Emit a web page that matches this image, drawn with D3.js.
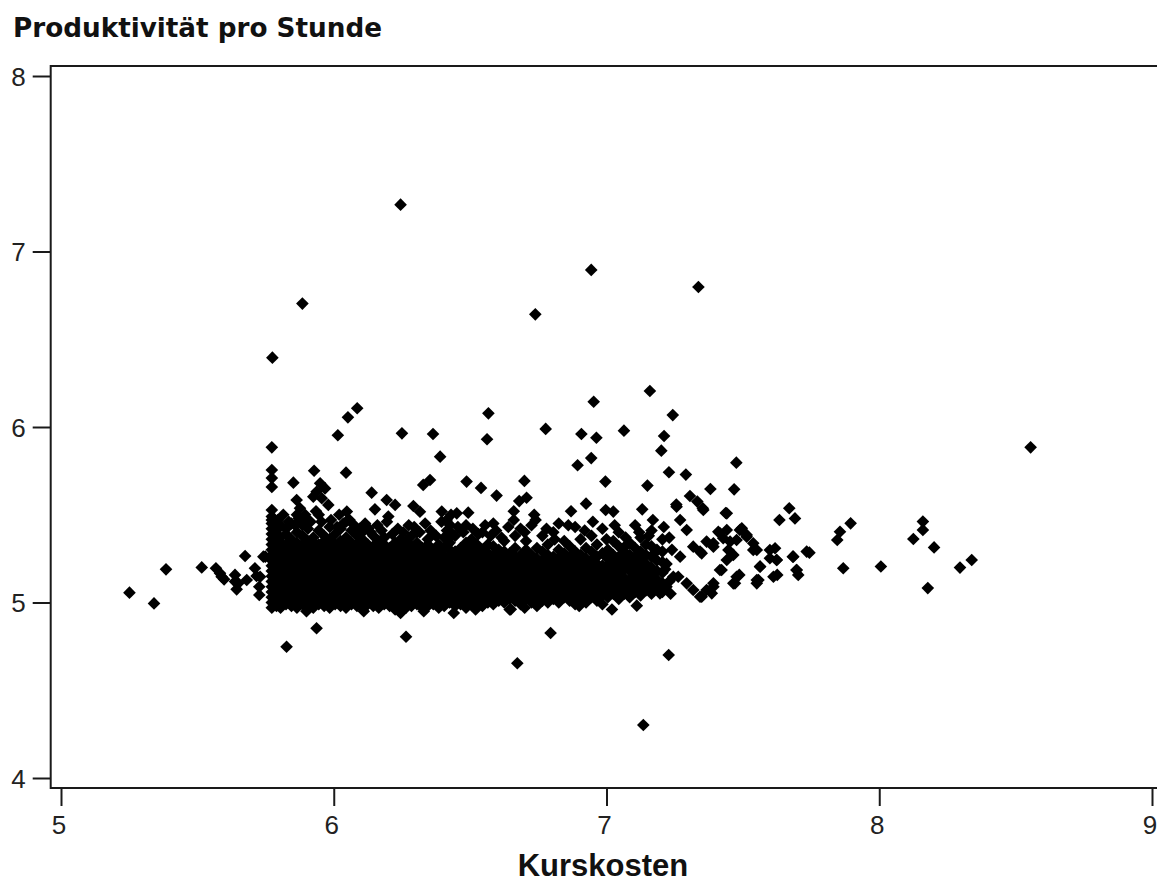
<!DOCTYPE html>
<html><head><meta charset="utf-8">
<script src="https://cdn.jsdelivr.net/npm/d3@7"></script>
<style>html,body{margin:0;padding:0;background:#fff;}svg{display:block;}</style>
</head><body>
<script>
// ---------- DATA ----------
const title = "Produktivität pro Stunde";
const xTitle = "Kurskosten";
const xTicks = [5, 6, 7, 8, 9];
const yTicks = [4, 5, 6, 7, 8];

// scattered points above the main cluster
const upperPoints = [
[6.245,7.267],[5.885,6.703],[6.944,6.895],[7.337,6.798],[6.739,6.642],[5.775,6.395],[7.159,6.205],[6.953,6.144],[6.567,6.078],[7.243,6.068],
[6.086,6.107],[6.052,6.055],[6.015,5.953],[6.250,5.964],[6.364,5.960],[6.777,5.989],[6.908,5.960],[6.963,5.939],[7.064,5.979],[7.211,5.949],
[6.562,5.930],[8.555,5.884],[7.201,5.865],[6.944,5.823],[6.894,5.782],[7.229,5.742],[7.291,5.729],[7.476,5.797],[7.468,5.645],[7.381,5.647],
[7.150,5.666],[6.996,5.689],[6.487,5.689],[6.540,5.653],[6.699,5.693],[6.597,5.609],[6.707,5.597],[6.680,5.578],[6.493,5.512],[6.925,5.563],
[6.997,5.527],[7.025,5.518],[7.131,5.531],[7.256,5.558],[7.306,5.607],[7.333,5.575],[7.355,5.527],[7.437,5.510],[6.390,5.831],[5.928,5.751],
[6.045,5.740],[5.852,5.683],[5.950,5.679],[5.968,5.650],[5.937,5.631],[5.925,5.603],[5.956,5.594],[5.980,5.556],[5.864,5.584],[5.876,5.537],
[6.139,5.626],[6.151,5.531],[6.194,5.584],[6.225,5.556],[6.292,5.550],[6.316,5.517],[6.328,5.670],[6.353,5.698],[6.451,5.508],[6.396,5.518],
[6.414,5.470],[6.426,5.442],[6.127,5.423],[6.048,5.518],[5.773,5.884],[5.773,5.755],[5.773,5.709],[5.773,5.658],[5.773,5.527],[5.773,5.470]
];

// scattered points below the main cluster
const lowerPoints = [
[5.827,4.748],[5.937,4.853],[6.265,4.805],[6.795,4.826],[6.673,4.654],[7.228,4.701],[7.135,4.302],[6.649,4.961],[7.111,4.982]
];

// sparse points left of the main cluster
const leftPoints = [
[5.251,5.056],[5.341,4.995],[5.385,5.189],[5.516,5.200],[5.568,5.195],[5.583,5.166],[5.598,5.132],[5.638,5.157],[5.650,5.109],[5.644,5.075],
[5.675,5.265],[5.681,5.128],[5.711,5.195],[5.717,5.151],[5.727,5.090],[5.727,5.043],[5.749,5.261],[5.589,5.147],[5.638,5.119],[5.730,5.147],[5.742,5.261]
];

// points right of the main cluster
const rightPoints = [
[7.441,5.508],[7.353,5.537],[7.634,5.470],[7.670,5.537],[7.691,5.479],[7.895,5.451],[7.856,5.403],[7.846,5.356],[8.160,5.461],[8.160,5.413],
[8.125,5.362],[8.201,5.314],[8.339,5.242],[8.296,5.199],[7.868,5.195],[8.006,5.205],[8.178,5.082],[7.744,5.284],[7.683,5.261],[7.697,5.185],
[7.703,5.157],[7.626,5.157],[7.618,5.309],[7.624,5.242],[7.599,5.252],[7.563,5.205],[7.557,5.128],[7.551,5.109],[7.487,5.157],[7.471,5.109],
[7.422,5.185],[7.392,5.090],[7.386,5.052],[7.349,5.033],[7.410,5.403],[7.428,5.366],[7.453,5.347],[7.477,5.356],[7.496,5.423],[7.514,5.385],
[7.538,5.337],[7.551,5.299],[7.447,5.299],[7.465,5.271],[7.392,5.318],[7.349,5.280],[7.367,5.347],[7.257,5.546],[7.270,5.470],[7.294,5.413],
[7.318,5.318],[7.343,5.290],[7.270,5.261],[7.245,5.147],[7.294,5.109],[7.318,5.071],[7.343,5.033],[7.196,5.052],[7.220,5.090],[7.263,5.147],
[7.392,5.337],[7.416,5.394],[7.441,5.413],[7.489,5.413],[7.514,5.375],[7.538,5.299],[7.563,5.204],[7.551,5.128],[7.599,5.299],[7.624,5.242],
[7.612,5.147],[7.685,5.261],[7.697,5.185],[7.734,5.290],[7.392,5.109],[7.367,5.071],[7.477,5.147],[7.465,5.109],[7.416,5.185],[7.441,5.242]
];

// ragged upper and lower edge of the main cluster
const clusterEdge = [
[5.795,5.47],[5.815,5.50],[5.835,5.46],[5.858,5.44],[5.872,5.48],[5.895,5.50],[5.915,5.46],[5.935,5.52],[5.955,5.46],[5.990,5.47],
[6.012,5.43],[6.035,5.45],[6.058,5.47],[6.075,5.44],[6.095,5.42],[6.115,5.45],[6.135,5.40],[6.160,5.44],[6.175,5.41],[6.195,5.46],
[6.215,5.39],[6.235,5.42],[6.255,5.40],[6.275,5.44],[6.295,5.43],[6.315,5.40],[6.335,5.45],[6.355,5.41],[6.375,5.38],[6.395,5.46],
[6.415,5.41],[6.435,5.39],[6.455,5.43],[6.475,5.40],[6.510,5.42],[6.530,5.39],[6.555,5.44],[6.575,5.38],[6.595,5.41],[6.615,5.37],
[6.640,5.43],[6.660,5.47],[6.700,5.40],[6.740,5.47],[6.780,5.42],[6.810,5.36],[6.860,5.44],[6.920,5.41],[6.950,5.46],[7.000,5.36],
[7.030,5.44],[7.070,5.37],[7.120,5.40],[7.170,5.47],[7.210,5.43],[7.230,5.37],[7.240,5.30],[7.220,5.22],[7.230,5.12],[7.235,5.05],
[6.735,5.50],[6.870,5.52],[6.660,5.52],[6.430,5.50],[6.200,5.49],[6.020,5.50],
[6.110,4.95],[6.330,4.95],[6.520,4.96],[6.700,4.97],[6.900,4.98],[7.020,4.96],[5.900,4.95],[6.440,4.94],
[7.015,5.23],[7.055,5.15],[7.095,5.25],[7.135,5.17],[7.175,5.28],[7.215,5.19],[7.075,5.33],[7.155,5.38]
];

// dense main cluster: Kurskosten value of each column, and the Produktivität values in it
const clusterX = [
5.773,5.790,5.805,5.825,5.845,5.865,5.885,5.905,5.925,5.945,5.965,5.985,6.005,6.025,6.045,6.065,6.085,6.105,6.125,6.145,
6.165,6.185,6.205,6.225,6.245,6.265,6.285,6.305,6.325,6.345,6.365,6.385,6.405,6.425,6.445,6.465,6.485,6.505,6.525,6.545,
6.565,6.585,6.605,6.625,6.645,6.665,6.685,6.705,6.725,6.745,6.765,6.785,6.805,6.825,6.845,6.865,6.885,6.905,6.925,6.945,
6.965,6.985,7.005,7.025,7.045,7.065,7.085,7.105,7.125,7.145,7.165,7.185,7.205
];
const clusterY = [
[4.97,5.00,5.03,5.06,5.09,5.12,5.15,5.18,5.21,5.24,5.27,5.30,5.33,5.36,5.39,5.42,5.45,5.49],
[4.98,5.02,5.05,5.08,5.11,5.14,5.17,5.20,5.23,5.26,5.29,5.32,5.35,5.38,5.41],
[4.97,5.00,5.04,5.07,5.10,5.13,5.16,5.19,5.22,5.25,5.28,5.31,5.34,5.37,5.44],
[4.99,5.02,5.05,5.09,5.12,5.15,5.18,5.21,5.24,5.27,5.30,5.33,5.39,5.42],
[4.98,5.01,5.04,5.07,5.10,5.13,5.16,5.20,5.23,5.26,5.29,5.32,5.36,5.45],
[4.97,5.00,5.03,5.06,5.10,5.13,5.16,5.19,5.22,5.25,5.28,5.31,5.34,5.40,5.50],
[4.99,5.02,5.05,5.08,5.11,5.14,5.17,5.21,5.24,5.27,5.30,5.33,5.38,5.44],
[4.98,5.01,5.04,5.07,5.10,5.13,5.16,5.19,5.22,5.25,5.28,5.32,5.35,5.42,5.47],
[4.97,5.00,5.03,5.06,5.09,5.12,5.15,5.18,5.21,5.25,5.28,5.31,5.34,5.37],
[4.99,5.02,5.05,5.08,5.11,5.14,5.17,5.20,5.23,5.26,5.30,5.33,5.41,5.50],
[4.98,5.01,5.04,5.07,5.10,5.13,5.16,5.19,5.22,5.25,5.28,5.31,5.35,5.38],
[4.97,5.00,5.03,5.06,5.09,5.13,5.16,5.19,5.22,5.26,5.29,5.32,5.36,5.43],
[4.99,5.02,5.05,5.08,5.11,5.14,5.17,5.20,5.23,5.27,5.30,5.33,5.39],
[4.98,5.01,5.04,5.07,5.10,5.13,5.16,5.19,5.22,5.25,5.28,5.31,5.35,5.42],
[4.97,5.00,5.03,5.06,5.09,5.12,5.15,5.18,5.21,5.24,5.28,5.32,5.37,5.46],
[4.99,5.02,5.05,5.08,5.11,5.14,5.18,5.21,5.24,5.27,5.30,5.34,5.41],
[4.98,5.01,5.04,5.07,5.10,5.13,5.16,5.19,5.22,5.25,5.29,5.33,5.38],
[4.97,5.00,5.03,5.06,5.09,5.12,5.15,5.18,5.21,5.25,5.28,5.31,5.36,5.40],
[4.99,5.02,5.05,5.08,5.11,5.14,5.17,5.20,5.23,5.26,5.30,5.33],
[4.98,5.01,5.04,5.07,5.10,5.13,5.16,5.19,5.22,5.25,5.28,5.32,5.38],
[4.97,5.00,5.03,5.06,5.09,5.12,5.15,5.18,5.21,5.24,5.27,5.31,5.35],
[4.99,5.02,5.05,5.08,5.11,5.14,5.17,5.20,5.23,5.26,5.29,5.33,5.37],
[4.98,5.01,5.04,5.07,5.10,5.13,5.16,5.19,5.22,5.25,5.28,5.31],
[4.96,5.00,5.03,5.06,5.09,5.12,5.15,5.18,5.21,5.24,5.27,5.30,5.34],
[4.94,4.99,5.02,5.05,5.08,5.11,5.14,5.17,5.20,5.23,5.26,5.29,5.32,5.36],
[4.97,5.00,5.03,5.06,5.09,5.12,5.15,5.18,5.21,5.24,5.27,5.31,5.35],
[4.98,5.01,5.04,5.07,5.10,5.13,5.16,5.19,5.22,5.25,5.28,5.32,5.38],
[4.99,5.02,5.05,5.08,5.11,5.14,5.17,5.20,5.23,5.26,5.30,5.34,5.40],
[4.97,5.00,5.03,5.06,5.09,5.12,5.15,5.18,5.21,5.24,5.27,5.31],
[4.98,5.01,5.04,5.07,5.10,5.13,5.16,5.19,5.22,5.25,5.29,5.33,5.36],
[4.99,5.02,5.05,5.08,5.11,5.14,5.17,5.20,5.23,5.26,5.30],
[4.97,5.00,5.03,5.06,5.09,5.12,5.15,5.18,5.21,5.24,5.28,5.33],
[4.98,5.01,5.04,5.07,5.10,5.13,5.16,5.19,5.22,5.26,5.31,5.37],
[5.00,5.03,5.06,5.09,5.12,5.15,5.18,5.21,5.24,5.27,5.30,5.34],
[4.98,5.01,5.04,5.07,5.10,5.13,5.16,5.19,5.22,5.25,5.29,5.38],
[4.99,5.02,5.05,5.08,5.11,5.14,5.17,5.20,5.23,5.26,5.31],
[4.97,5.00,5.03,5.06,5.09,5.12,5.15,5.18,5.21,5.24,5.28,5.34,5.44],
[4.99,5.02,5.05,5.08,5.11,5.14,5.17,5.20,5.23,5.27,5.31,5.36],
[5.00,5.03,5.06,5.09,5.12,5.15,5.18,5.21,5.25,5.29,5.33],
[4.98,5.01,5.04,5.07,5.10,5.13,5.16,5.19,5.22,5.26,5.30,5.40],
[5.00,5.03,5.06,5.09,5.12,5.15,5.18,5.21,5.24,5.28,5.33],
[4.99,5.02,5.05,5.08,5.11,5.14,5.17,5.20,5.23,5.27,5.32,5.45],
[5.01,5.04,5.07,5.10,5.13,5.16,5.19,5.22,5.26,5.30],
[5.00,5.03,5.06,5.09,5.12,5.15,5.18,5.21,5.25,5.29,5.35],
[4.96,5.02,5.05,5.08,5.11,5.14,5.17,5.20,5.24,5.28],
[5.01,5.04,5.07,5.10,5.13,5.17,5.21,5.26,5.31,5.38],
[4.99,5.03,5.06,5.09,5.12,5.15,5.19,5.23,5.27,5.42],
[5.02,5.05,5.08,5.12,5.16,5.20,5.25,5.30,5.35],
[5.00,5.04,5.07,5.11,5.14,5.18,5.22,5.27,5.44],
[4.98,5.03,5.06,5.10,5.13,5.17,5.21,5.25,5.31],
[5.01,5.05,5.09,5.12,5.16,5.20,5.24,5.29,5.38],
[5.00,5.04,5.08,5.11,5.15,5.19,5.23,5.27,5.33],
[5.02,5.06,5.10,5.14,5.18,5.22,5.26,5.40],
[5.00,5.04,5.08,5.12,5.16,5.20,5.25,5.30,5.45],
[5.03,5.07,5.11,5.15,5.19,5.23,5.28,5.35],
[5.01,5.05,5.09,5.13,5.17,5.21,5.26,5.32],
[4.99,5.04,5.08,5.12,5.16,5.20,5.24,5.29,5.43],
[5.02,5.06,5.10,5.14,5.18,5.22,5.27,5.36],
[5.00,5.05,5.09,5.13,5.17,5.21,5.25,5.31],
[5.03,5.07,5.11,5.15,5.19,5.24,5.29,5.38],
[5.01,5.06,5.10,5.14,5.18,5.22,5.26,5.33],
[4.99,5.04,5.08,5.13,5.17,5.21,5.28,5.42],
[5.03,5.07,5.11,5.16,5.20,5.25,5.30],
[5.05,5.09,5.13,5.18,5.23,5.27,5.35],
[5.02,5.07,5.12,5.16,5.21,5.26,5.32,5.40],
[5.05,5.10,5.14,5.19,5.24,5.29],
[5.03,5.08,5.13,5.18,5.22,5.27,5.34],
[5.06,5.11,5.16,5.21,5.26,5.31,5.44],
[5.04,5.09,5.14,5.19,5.24,5.29,5.37],
[5.07,5.12,5.17,5.22,5.27,5.33],
[5.05,5.10,5.15,5.20,5.26,5.32,5.41],
[5.08,5.13,5.18,5.24,5.30],
[5.06,5.11,5.17,5.23,5.29,5.36]
];

// ---------- CHART ----------
const W = 1157, H = 883;
const frame = {left: 50.7, top: 66, right: 1170, bottom: 788};

const svg = d3.select("body").append("svg").attr("width", W).attr("height", H);

const x = d3.scaleLinear().domain([5, 9]).range([61, 1152]);
const y = d3.scaleLinear().domain([4, 8]).range([778, 76]);

const points = [];
clusterX.forEach((cx, i) => clusterY[i].forEach(v => points.push([cx, v])));
points.push(...clusterEdge, ...leftPoints, ...rightPoints, ...upperPoints, ...lowerPoints);

const axisColor = "#1a1a1a";
const fontFam = "'Liberation Sans', Arial, sans-serif";

// markers
const diamond = d3.symbol().type(d3.symbolSquare).size(80);
svg.append("g").selectAll("path").data(points).join("path")
  .attr("d", diamond)
  .attr("transform", d => `translate(${x(d[0])},${y(d[1])}) rotate(45)`)
  .attr("fill", "#000");

// frame
svg.append("rect")
  .attr("x", frame.left).attr("y", frame.top)
  .attr("width", frame.right - frame.left).attr("height", frame.bottom - frame.top)
  .attr("fill", "none").attr("stroke", axisColor).attr("stroke-width", 2);

// y axis
const yAxis = svg.append("g").attr("transform", `translate(${frame.left},0)`)
  .call(d3.axisLeft(y).tickValues(yTicks).tickSize(18).tickPadding(7).tickFormat(d3.format("d")));
yAxis.select(".domain").remove();
yAxis.selectAll(".tick line").attr("stroke", axisColor).attr("stroke-width", 2);
yAxis.selectAll(".tick text").attr("fill", "#222").attr("font-family", fontFam)
  .attr("font-size", 26).attr("dy", "0.36em");

// x axis
const xAxis = svg.append("g").attr("transform", `translate(0,${frame.bottom})`)
  .call(d3.axisBottom(x).tickValues(xTicks).tickSize(18).tickPadding(10).tickFormat(d3.format("d")));
xAxis.select(".domain").remove();
xAxis.selectAll(".tick line").attr("stroke", axisColor).attr("stroke-width", 2);
xAxis.selectAll(".tick text").attr("fill", "#222").attr("font-family", fontFam)
  .attr("font-size", 26).attr("dx", -2.5);

// titles
svg.append("text").attr("x", 13).attr("y", 37)
  .attr("font-family", "'DejaVu Sans', sans-serif").attr("font-weight", "bold").attr("font-size", 26)
  .attr("textLength", 369).attr("lengthAdjust", "spacingAndGlyphs")
  .attr("fill", "#111").text(title);

svg.append("text").attr("x", 603).attr("y", 876).attr("text-anchor", "middle")
  .attr("font-family", fontFam).attr("font-weight", "bold").attr("font-size", 31)
  .attr("fill", "#111").text(xTitle);
</script>
</body></html>
